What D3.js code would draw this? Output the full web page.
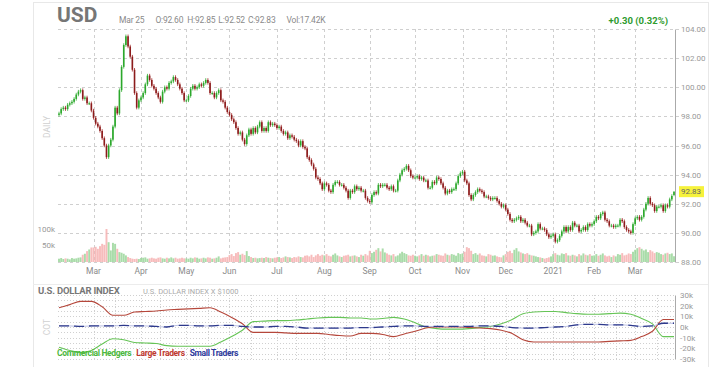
<!DOCTYPE html>
<html>
<head>
<meta charset="utf-8">
<script src="https://cdn.jsdelivr.net/npm/d3@7"></script>
<style>
body{margin:0;background:#fff;font-family:Roboto,"Open Sans",sans-serif;}
svg{display:block}
</style>
</head>
<body>
<svg id="chart" width="720" height="367"></svg>
<script>
// trading calendar
const firstDay="2020-02-06", lastDay="2021-03-25";
const holidays=["2020-02-17","2020-04-10","2020-05-25","2020-07-03","2020-09-07",
    "2020-11-26","2020-12-25","2021-01-01","2021-01-18","2021-02-15"];

// daily closes, month by month
const firstOpen=98.1;
const closeFeb20=[98.2,98.5,98.6,98.5,98.8,98.9,99.0,99.2,99.5,99.7,99.8,99.2,99.3,98.9,98.9,98.4];
const closeMar20=[97.9,97.5,97.3,97.0,96.5,96.0,95.2,96.0,96.4,97.3,98.6,98.2,99.8,101.4,102.9,103.5,102.8,102.1,101.2,99.6,98.6,99.1];
const closeApr20=[99.3,99.6,100.2,100.8,100.5,100.1,99.9,99.6,99.3,99.0,99.7,100.0,99.9,100.3,100.4,100.7,100.5,100.2,99.9,99.6,99.1];
const closeMay20=[99.1,99.4,99.9,100.1,99.9,100.0,100.2,100.1,100.3,100.5,100.3,99.6,99.6,99.3,99.6,99.8,99.1,99.0,98.6,98.3];
const closeJun20=[98.1,97.8,97.6,97.2,96.8,96.9,96.4,96.1,96.7,97.1,96.8,97.2,96.9,97.3,97.6,97.0,97.2,97.0,97.6,97.4,97.5,97.4];
const closeJul20=[97.2,97.3,97.0,96.8,96.9,96.5,96.7,96.6,96.4,96.3,96.0,96.3,95.9,95.8,95.2,95.0,94.7,94.4,93.8,93.7,93.4,93.0];
const closeAug20=[93.4,93.3,92.9,92.8,93.3,93.5,93.5,93.3,93.3,93.1,92.9,92.4,92.9,92.8,93.2,93.0,93.1,92.9,92.9,92.4,92.2];
const closeSep20=[92.1,92.6,92.8,92.7,93.3,93.2,93.3,93.3,93.1,93.0,93.2,92.9,92.9,93.6,94.0,94.3,94.4,94.6,94.3,93.9,93.8];
const closeOct20=[93.8,93.9,93.7,93.8,93.6,93.6,93.1,93.1,93.5,93.4,93.8,93.7,93.4,93.1,92.7,92.9,92.8,93.0,93.0,93.4,93.9,94.1];
const closeNov20=[94.2,93.6,93.4,92.6,92.3,92.6,92.8,93.0,92.9,92.8,92.5,92.5,92.4,92.3,92.4,92.4,92.2,92.0,91.8,91.9];
const closeDec20=[91.6,91.3,90.9,90.8,90.9,91.0,91.1,90.8,90.9,90.7,90.5,90.5,89.9,90.0,90.1,90.6,90.3,90.3,90.2,89.9,89.7,89.8];
const closeJan21=[89.9,89.4,89.5,89.8,90.1,90.4,90.1,90.4,90.2,90.7,90.5,90.5,90.1,90.2,90.4,90.2,90.6,90.5,90.6];
const closeFeb21=[90.8,91.1,91.0,91.3,91.4,90.9,90.8,90.5,90.5,90.4,90.5,90.5,90.9,90.8,90.4,90.2,90.1,90.0,90.6];
const closeMar21=[91.0,91.1,90.9,91.1,91.6,92.0,92.4,92.0,91.9,91.5,91.8,91.8,91.9,91.5,91.9,91.8,92.3,92.53,92.83];

// last session as quoted in the header
const lastOpen=92.60, lastHigh=92.85, lastLow=92.52;

// daily volume (thousands)
const volFeb20=[10,12,9,11,10,8,12,10,11,13,14,22,25,33,38,44];
const volMar20=[44,46,40,48,55,52,100,60,35,58,55,40,30,28,25,20,15,12,10,9,10,9];
const volApr20=[12,13,14,10,11,13,11,10,13,14,11,10,13,11,14,11,13,10,11,13,11];
const volMay20=[11,10,13,11,14,13,10,11,13,11,14,13,10,11,13,17,11,13,14,15];
const volJun20=[21,24,18,27,30,22,25,21,33,18,15,12,13,11,12,13,12,15,13,12,11,13];
const volJul20=[14,15,12,14,17,15,14,12,15,14,17,15,14,19,20,17,22,15,20,24,19,22];
const volAug20=[20,24,19,17,22,26,20,17,15,19,20,22,17,19,20,17,15,22,19,24,20];
const volSep20=[34,27,31,37,42,32,41,29,26,22,20,24,17,20,26,31,27,24,20,19,22];
const volOct20=[19,17,20,24,19,22,20,17,19,20,24,22,20,19,26,22,20,24,22,19,27,24];
const volNov20=[26,31,45,42,34,24,27,22,26,20,19,17,24,22,19,20,17,15,14,20];
const volDec20=[24,31,34,27,37,42,32,29,26,24,27,22,20,19,17,15,14,12,10,12,14,17];
const volJan21=[24,27,22,20,26,24,27,20,19,22,20,17,24,20,26,22,20,24,19];
const volFeb21=[20,24,19,22,26,20,17,19,15,20,17,24,22,27,20,22,26,24,31];
const volMar21=[37,42,45,40,35,38,30,36,32,27,30,28,24,22,26,28,24,26,17.42];

// weekly COT net positions (thousands of contracts), one per 5 trading days
const cotCommercial=[-19,-22,-24,-22,-16,-11,-12,-14.5,-15,-15.5,-17.5,-18,-18,-18,-18,-14,-9,-3,5,5.5,6,6,6.5,7.5,8.5,9,9,8.5,8.5,7.5,8,9,7.5,4,0,-1.5,-2,-2,-1.5,-0.5,0.5,3,7,12.5,14,14.5,14.5,13.5,12.5,12,12,12.5,13,12,8,3,-9,-9];
const cotLarge=[18,21,24,24,19,11,11,14,14.5,15,16,16.5,17,17.5,18,14,9,3,-5,-5,-5,-5.5,-6,-6,-6,-7,-8,-8.5,-6,-6,-7,-9,-6.5,-4,-1,0,0,0,-0.5,-1,-1.5,-3,-6,-12,-14,-14,-14,-14,-14,-14,-14,-13.5,-13,-12.5,-9,-4,7,7];
const cotSmall=[1,1,0.5,1,1,1,1.5,1,1,0.5,0,1.5,1.5,1,1,1.5,1.5,0.5,0,0,0.5,0.5,0,-1,-1,-1,-1,-1,-0.5,-0.5,0,0.5,1,1,0.5,0.5,0.5,0.5,0.5,1,1,0.5,-0.5,-1,-1,-0.5,0,0.5,2,2.5,2.5,2,2,1.5,0.5,1,3.5,3.5];

const priceTicks=[88,90,92,94,96,98,100,102,104];
const volTicks=[50,100];
const cotTicks=[-30,-20,-10,0,10,20,30];

const legendItems=[
    { name:"Commercial Hedgers", color:"#4cb83c" },
    { name:"Large Traders", color:"#c0392f" },
    { name:"Small Traders", color:"#2e3a9c" }
];

// ---------------------------------------------------------------
const svgTag=d3.select("#chart");
const parse=d3.timeParse("%Y-%m-%d"), fmtDay=d3.timeFormat("%Y-%m-%d");

const dates=d3.timeDay.range(parse(firstDay),d3.timeDay.offset(parse(lastDay),1))
    .filter(d=>d.getDay()%6!==0 && !holidays.includes(fmtDay(d)));

const closes=[].concat(closeFeb20,closeMar20,closeApr20,closeMay20,closeJun20,closeJul20,
    closeAug20,closeSep20,closeOct20,closeNov20,closeDec20,closeJan21,closeFeb21,closeMar21);
const volumes=[].concat(volFeb20,volMar20,volApr20,volMay20,volJun20,volJul20,
    volAug20,volSep20,volOct20,volNov20,volDec20,volJan21,volFeb21,volMar21);
if (closes.length!==dates.length) console.warn("length mismatch",closes.length,dates.length);

const wick=0.12;
const candles=closes.map((c,i)=>{
    const o=i ? closes[i-1] : firstOpen;
    return { i, o, c, h:Math.max(o,c)+wick, l:Math.min(o,c)-wick, v:volumes[i], up:c>=o };
});
const last=candles[candles.length-1];
Object.assign(last,{ o:lastOpen, h:lastHigh, l:lastLow, up:last.c>=lastOpen });

const plotLeft=58, axisX=675;
const x=d3.scalePoint().domain(d3.range(dates.length)).range([59,674]);
const step=x.step();
const y=d3.scaleLinear().domain([88,104]).range([262,29]);
const vy=d3.scaleLinear().domain([0,100]).range([262,229]);
const cy=d3.scaleLinear().domain([-30,30]).range([359,295]);

// card frame
svgTag.append("rect").attr("x",33.5).attr("y",2.5).attr("width",675).attr("height",370)
    .attr("fill","none").attr("stroke","#e8e8e8");
svgTag.append("line").attr("x1",33).attr("x2",708).attr("y1",284.5).attr("y2",284.5).attr("stroke","#ececec");

// header
svgTag.append("text").attr("x",57).attr("y",22).attr("font-size",21).attr("font-weight",700)
    .attr("fill","#767676").text("USD");

const f2=d3.format(".2f");
const header=[
    { t:d3.timeFormat("%b %-d")(dates[dates.length-1]), gap:11 },
    { t:"O:"+f2(last.o), gap:4 },
    { t:"H:"+f2(last.h), gap:3 },
    { t:"L:"+f2(last.l), gap:3 },
    { t:"C:"+f2(last.c), gap:11 },
    { t:"Vol:"+volumes[volumes.length-1]+"K", gap:0 }
];
let hx=119;
header.forEach(({t,gap})=>{
    const node=svgTag.append("text").attr("x",hx).attr("y",23).attr("font-size",8.5)
        .attr("letter-spacing",-0.2).attr("fill","#8a8a8a").text(t);
    hx+=node.node().getComputedTextLength()+gap;
});
const prevClose=closes[closes.length-2];
const change=last.c-prevClose;
svgTag.append("text").attr("x",668).attr("y",24).attr("text-anchor","end")
    .attr("font-size",9.5).attr("font-weight",700).attr("fill","#2e9b2e")
    .text(`+${f2(change)} (${f2(change/prevClose*100)}%)`);

// price grid
const monthStarts=d3.range(1,dates.length).filter(i=>dates[i].getMonth()!==dates[i-1].getMonth());
const gridG=svgTag.append("g").attr("stroke","#cfcfcf").attr("stroke-dasharray","3,3");
priceTicks.forEach(p=>{
    gridG.append("line").attr("x1",plotLeft).attr("x2",axisX+5)
        .attr("y1",Math.round(y(p))+0.5).attr("y2",Math.round(y(p))+0.5);
});
monthStarts.forEach(i=>{
    gridG.append("line").attr("x1",Math.round(x(i))+0.5).attr("x2",Math.round(x(i))+0.5)
        .attr("y1",y(104)).attr("y2",y(88));
});

// month labels
svgTag.append("g").selectAll("text").data(monthStarts).join("text")
    .attr("x",i=>x(i)).attr("y",274).attr("text-anchor","middle")
    .attr("font-size",8.5).attr("fill","#8a8a8a")
    .text(i=>dates[i].getMonth()===0 ? d3.timeFormat("%Y")(dates[i]) : d3.timeFormat("%b")(dates[i]));

// DAILY label
svgTag.append("text").attr("transform",`translate(50,127) rotate(-90)`).attr("text-anchor","middle")
    .attr("font-size",8.5).attr("fill","#d0d0d0").text("DAILY");

// volume
svgTag.append("g").selectAll("rect").data(candles).join("rect")
    .attr("x",d=>x(d.i)-step*0.45).attr("width",step*0.9)
    .attr("y",d=>vy(d.v)).attr("height",d=>vy(0)-vy(d.v))
    .attr("fill",d=>d.up ? "#9ad69a" : "#f6b0b0").attr("opacity",0.85);
svgTag.append("g").selectAll("text").data(volTicks).join("text")
    .attr("x",55).attr("y",d=>vy(d)).attr("dy","0.35em").attr("text-anchor","end")
    .attr("font-size",8).attr("fill","#999").text(d=>d+"k");

// candles
const candleG=svgTag.append("g");
candleG.selectAll("line").data(candles).join("line")
    .attr("x1",d=>x(d.i)).attr("x2",d=>x(d.i))
    .attr("y1",d=>y(d.h)).attr("y2",d=>y(d.l))
    .attr("stroke",d=>d.up ? "#36ad36" : "#a12525").attr("stroke-width",0.8);
candleG.selectAll("rect").data(candles).join("rect")
    .attr("x",d=>x(d.i)-0.8).attr("width",1.6)
    .attr("y",d=>y(Math.max(d.o,d.c)))
    .attr("height",d=>Math.max(1,Math.abs(y(d.o)-y(d.c))))
    .attr("fill",d=>d.up ? "#2ca82c" : "#8c1c1c");

// price axis
const priceAxis=svgTag.append("g").attr("transform",`translate(${axisX},0)`)
    .call(d3.axisRight(y).tickValues(priceTicks).tickFormat(f2).tickSize(0).tickPadding(6).tickSizeOuter(0));
priceAxis.select(".domain").attr("stroke","#aaa");
priceAxis.selectAll("text").attr("font-size",8).attr("fill","#999").attr("font-family","Roboto");

// last price badge
svgTag.append("rect").attr("x",679).attr("y",y(last.c)-5.5).attr("width",25).attr("height",11).attr("fill","#f6f23c");
svgTag.append("text").attr("x",681).attr("y",y(last.c)).attr("dy","0.35em")
    .attr("font-size",8).attr("fill","#666").text(f2(last.c));

// ---------------- COT panel ----------------
svgTag.append("text").attr("x",38).attr("y",294).attr("font-size",9.5).attr("font-weight",700)
    .attr("letter-spacing",-0.2).attr("fill","#777").text("U.S. DOLLAR INDEX");
svgTag.append("text").attr("x",143).attr("y",294).attr("font-size",7.5)
    .attr("fill","#aaa").text("U.S. DOLLAR INDEX X $1000");
svgTag.append("text").attr("transform",`translate(50,327) rotate(-90)`).attr("text-anchor","middle")
    .attr("font-size",8.5).attr("fill","#d0d0d0").text("COT");

const cotGrid=svgTag.append("g").attr("stroke","#d0d0d0").attr("stroke-dasharray","1,2");
d3.range(-30,31,5).forEach(v=>{
    cotGrid.append("line").attr("x1",plotLeft).attr("x2",axisX)
        .attr("y1",Math.round(cy(v))+0.5).attr("y2",Math.round(cy(v))+0.5);
});
const halfMonths=[];
d3.timeMonth.range(parse("2020-03-01"),parse("2021-04-01")).forEach(m=>{
    [1,15].forEach(day=>{
        const target=new Date(m.getFullYear(),m.getMonth(),day);
        const i=dates.findIndex(d=>d>=target);
        if (i>0) halfMonths.push(i);
    });
});
halfMonths.forEach(i=>{
    cotGrid.append("line").attr("x1",Math.round(x(i))+0.5).attr("x2",Math.round(x(i))+0.5)
        .attr("y1",cy(30)).attr("y2",cy(-30));
});

const weekX=k=>x(Math.min(k*5,dates.length-1));
const cotLine=d3.line().x((d,k)=>weekX(k)).y(d=>cy(d)).curve(d3.curveMonotoneX);
const cotG=svgTag.append("g").attr("fill","none");
cotG.append("path").attr("d",cotLine(cotCommercial)).attr("stroke","#66c456").attr("stroke-width",1.1);
cotG.append("path").attr("d",cotLine(cotLarge)).attr("stroke","#b5473b").attr("stroke-width",1.1);
cotG.append("path").attr("d",cotLine(cotSmall)).attr("stroke","#aab0dd").attr("stroke-width",0.8);
cotG.append("path").attr("d",cotLine(cotSmall)).attr("stroke","#2e3a8c").attr("stroke-width",1.3)
    .attr("stroke-dasharray","10,5");

const cotAxis=svgTag.append("g").attr("transform",`translate(${axisX},0)`)
    .call(d3.axisRight(cy).tickValues(cotTicks).tickFormat(d=>d+"k").tickSize(0).tickPadding(5).tickSizeOuter(0));
cotAxis.select(".domain").attr("stroke","#aaa");
cotAxis.selectAll("text").attr("font-size",8).attr("fill","#999").attr("font-family","Roboto");

// legend
let lx=57;
legendItems.forEach(({name,color})=>{
    const node=svgTag.append("text").attr("x",lx).attr("y",356).attr("font-size",8.5)
        .attr("font-weight",700).attr("letter-spacing",-0.35).attr("fill",color).text(name);
    lx+=node.node().getComputedTextLength()+5;
});
</script>
</body>
</html>
